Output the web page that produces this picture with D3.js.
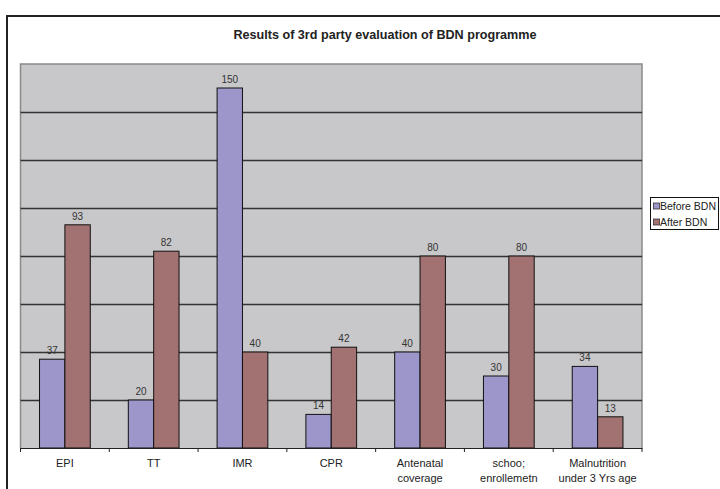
<!DOCTYPE html>
<html>
<head>
<meta charset="utf-8">
<script src="https://cdn.jsdelivr.net/npm/d3@7/dist/d3.min.js"></script>
<style>
  html, body { margin: 0; padding: 0; background: #fff; }
  svg { display: block; font-family: Arial, "Liberation Sans", sans-serif; }
</style>
</head>
<body>
<svg id="chart" width="720" height="489"></svg>
<script>
// Data
const categories = [
  ["EPI"],
  ["TT"],
  ["IMR"],
  ["CPR"],
  ["Antenatal", "coverage"],
  ["schoo;", "enrollemetn"],
  ["Malnutrition", "under 3 Yrs age"]
];
const seriesNames = ["Before BDN", "After BDN"];
const beforeBDN = [37, 20, 150, 14, 40, 30, 34];
const afterBDN  = [93, 82, 40, 42, 80, 80, 13];
const yTicks = [0, 20, 40, 60, 80, 100, 120, 140, 160];
const titleText = "Results of 3rd party evaluation of BDN programme";

const colors = { "Before BDN": "#9c96ca", "After BDN": "#a27171" };

const svg = d3.select("#chart");

// Chart frame (top and left edges)
svg.append("path")
  .attr("d", "M7,489 V16 H720")
  .attr("fill", "none")
  .attr("stroke", "#222")
  .attr("stroke-width", 2);

// Title
svg.append("text")
  .attr("x", 385).attr("y", 38.5)
  .attr("text-anchor", "middle")
  .attr("font-size", 12.6)
  .attr("font-weight", "bold")
  .attr("fill", "#222")
  .text(titleText);

// Plot area geometry
const plot = { left: 20.5, right: 642, top: 64, bottom: 448 };

const catKeys = categories.map((c, i) => i);
const x = d3.scaleBand().domain(catKeys).range([plot.left, plot.right]).padding(0);
const xs = d3.scaleBand().domain(seriesNames).range([0, x.bandwidth()])
  .paddingInner(0).paddingOuter(0.75);
const y = d3.scaleLinear().domain([0, 160]).range([plot.bottom, plot.top]);

// Plot background
svg.append("rect")
  .attr("x", plot.left).attr("y", plot.top)
  .attr("width", plot.right - plot.left).attr("height", plot.bottom - plot.top)
  .attr("fill", "#c8c8ca");

// Plot border (gray, top/left/right)
svg.append("path")
  .attr("d", `M${plot.left},${plot.bottom} V${plot.top} H${plot.right} V${plot.bottom}`)
  .attr("fill", "none")
  .attr("stroke", "#8a8a8a")
  .attr("stroke-width", 1.5);

// Gridlines
svg.append("g")
  .selectAll("line")
  .data(yTicks.filter(t => t > 0 && t < 160))
  .join("line")
  .attr("x1", plot.left).attr("x2", plot.right)
  .attr("y1", d => Math.round(y(d)) + 0.5).attr("y2", d => Math.round(y(d)) + 0.5)
  .attr("stroke", "#333")
  .attr("stroke-width", 1.3);

// Bars
const rows = categories.map((c, i) => ({
  i,
  values: [
    { name: seriesNames[0], v: beforeBDN[i] },
    { name: seriesNames[1], v: afterBDN[i] }
  ]
}));

const groups = svg.append("g").selectAll("g")
  .data(rows)
  .join("g")
  .attr("transform", d => `translate(${x(d.i)},0)`);

groups.selectAll("rect")
  .data(d => d.values)
  .join("rect")
  .attr("x", d => xs(d.name))
  .attr("y", d => y(d.v))
  .attr("width", xs.bandwidth())
  .attr("height", d => y(0) - y(d.v))
  .attr("fill", d => colors[d.name])
  .attr("stroke", "#111")
  .attr("stroke-width", 1);

groups.selectAll("text.val")
  .data(d => d.values)
  .join("text")
  .attr("class", "val")
  .attr("x", d => xs(d.name) + xs.bandwidth() / 2)
  .attr("y", d => y(d.v) - 5)
  .attr("text-anchor", "middle")
  .attr("font-size", 10)
  .attr("fill", "#333")
  .text(d => d.v);

// Category axis
const xAxis = d3.axisBottom(x).tickSize(0).tickFormat(() => "");
const axisG = svg.append("g")
  .attr("transform", `translate(0,${plot.bottom})`)
  .call(xAxis);
axisG.select(".domain").attr("stroke", "#222").attr("stroke-width", 1.2);

// Tick marks at category boundaries
const bounds = catKeys.map(i => x(i)).concat([plot.right]);
svg.append("g").selectAll("line")
  .data(bounds)
  .join("line")
  .attr("x1", d => d).attr("x2", d => d)
  .attr("y1", plot.bottom).attr("y2", plot.bottom + 4)
  .attr("stroke", "#222")
  .attr("stroke-width", 1);

// Category labels
const labels = svg.append("g").selectAll("text")
  .data(rows)
  .join("text")
  .attr("x", d => x(d.i) + x.bandwidth() / 2)
  .attr("text-anchor", "middle")
  .attr("font-size", 11)
  .attr("fill", "#222");
labels.selectAll("tspan")
  .data(d => categories[d.i].map((t, k) => ({ t, k, x: x(d.i) + x.bandwidth() / 2 })))
  .join("tspan")
  .attr("x", d => d.x)
  .attr("y", d => 467 + d.k * 15)
  .text(d => d.t);

// Legend
const legend = svg.append("g");
legend.append("rect")
  .attr("x", 650.5).attr("y", 197.5)
  .attr("width", 68).attr("height", 32)
  .attr("fill", "#fff")
  .attr("stroke", "#111")
  .attr("stroke-width", 1);
const items = legend.selectAll("g.item")
  .data(seriesNames)
  .join("g")
  .attr("class", "item")
  .attr("transform", (d, i) => `translate(0,${206 + i * 16})`);
items.append("rect")
  .attr("x", 653.5).attr("y", -3)
  .attr("width", 6).attr("height", 6)
  .attr("fill", d => colors[d])
  .attr("stroke", "#333")
  .attr("stroke-width", 0.8);
items.append("text")
  .attr("x", 660).attr("y", 3.5)
  .attr("font-size", 10.5)
  .attr("fill", "#222")
  .text(d => d);
</script>
</body>
</html>
